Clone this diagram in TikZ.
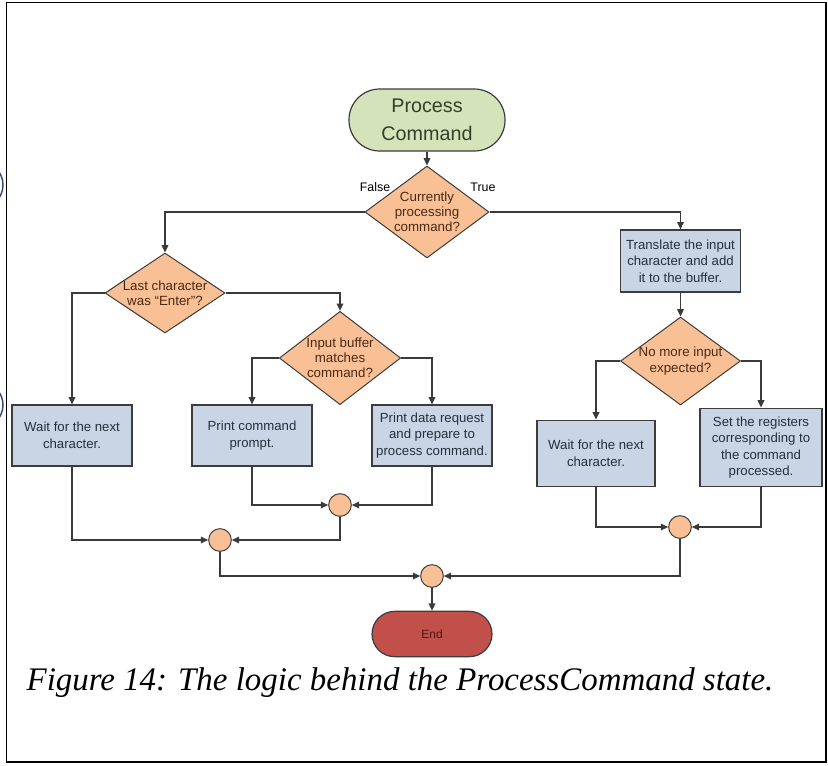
\documentclass[tikz,border=0pt]{standalone}
\usepackage{fontspec}
\setmainfont{Liberation Serif}
\newfontfamily\arialf{Liberation Sans}
\usetikzlibrary{arrows.meta,shapes.geometric}
\definecolor{boxfill}{HTML}{C9D5E5}
\definecolor{boxtext}{HTML}{26303C}
\definecolor{decfill}{HTML}{F9C096}
\definecolor{dectext}{HTML}{4A2A14}
\definecolor{startfill}{HTML}{D5E3BA}
\definecolor{starttext}{HTML}{33402A}
\definecolor{endfill}{HTML}{C2504A}
\definecolor{endtext}{HTML}{4E1510}
\definecolor{linegray}{HTML}{3C3C3C}
\definecolor{connline}{HTML}{3A3A3A}
\definecolor{edgeblue}{HTML}{3A4868}
\begin{document}
\begin{tikzpicture}[x=0.75pt,y=-0.75pt,
  box/.style={draw=linegray,line width=0.9pt,fill=boxfill,minimum width=90pt,minimum height=45.75pt,align=center,font=\arialf\fontsize{9.9}{12.4}\selectfont,text=boxtext,inner sep=1pt},
  dec/.style={draw=linegray,line width=0.75pt,fill=decfill,diamond,inner sep=0pt},
  dectxt/.style={align=center,font=\arialf\fontsize{10}{11.4}\selectfont,text=dectext},
  junc/.style={circle,draw=linegray,fill=decfill,minimum size=17pt,inner sep=0pt,line width=0.75pt},
  conn/.style={draw=connline,line width=0.9pt,-{Triangle[length=5.5pt,width=5pt]}},
  lbl/.style={font=\arialf\fontsize{9.3}{11}\selectfont,text=black},
]
\useasboundingbox (0,0) rectangle (828,765);
\begin{scope}
\clip (0,0) rectangle (828,765);
\draw[edgeblue,line width=1.1pt] (-20,185) circle (23);
\draw[edgeblue,line width=1.1pt] (-20,405) circle (23);
\end{scope}
\draw[black,line width=1pt] (6.5,2.5) rectangle (826,762);

% start / end
\node[draw=linegray,line width=0.9pt,fill=startfill,rounded corners=23pt,minimum width=117pt,minimum height=46.5pt,align=center,font=\arialf\fontsize{14.8}{21}\selectfont,text=starttext] (start) at (427,120) {Process\\Command};
\node[draw=linegray,line width=0.9pt,fill=endfill,rounded corners=17pt,minimum width=90pt,minimum height=34pt,font=\arialf\fontsize{9}{11}\selectfont,text=endtext] (end) at (432,634) {End};

% decisions
\node[dec,minimum width=93pt,minimum height=69pt,label={[dectxt]center:Currently\\processing\\command?}] (d1) at (427,212) {};
\node[dec,minimum width=90pt,minimum height=60pt,label={[dectxt]center:Last character\\was “Enter”?}] (d2) at (165,293) {};
\node[dec,minimum width=91pt,minimum height=70pt,label={[dectxt]center:Input buffer\\matches\\command?}] (d3) at (340,358) {};
\node[dec,minimum width=90pt,minimum height=66pt,label={[dectxt]center:No more input\\expected?}] (d4) at (680.5,361) {};

\node[lbl] (lf) at (375,187) {False};
\node[lbl] (lt) at (483,187) {True};

% boxes
\node[box,minimum height=46.5pt] (tr) at (680.5,261) {Translate the input\\character and add\\it to the buffer.};
\node[box] (w1) at (72,435.5) {Wait for the next\\character.};
\node[box] (pc) at (252,435.5) {Print command\\prompt.};
\node[box] (pd) at (432,435.5) {Print data request\\and prepare to\\process command.};
\node[box,minimum width=88.5pt,minimum height=50pt] (w2) at (596,453.5) {Wait for the next\\character.};
\node[box,minimum width=91.5pt,minimum height=59pt] (sr) at (761,447.5) {Set the registers\\corresponding to\\the command\\processed.};

% junctions
\node[junc] (c1) at (340,505) {};
\node[junc] (c2) at (220,540) {};
\node[junc] (c3) at (432,576) {};
\node[junc] (c4) at (680,527) {};

% connectors
\draw[conn] (start) -- (d1);
\draw[conn] (d1.west) -| (d2.north);
\draw[conn] (d1.east) -| (tr.north);
\draw[conn] (tr) -- (d4);
\draw[conn] (d4.west) -| (w2.north);
\draw[conn] (d4.east) -| (sr.north);
\draw[conn] (w2.south) |- (c4.west);
\draw[conn] (sr.south) |- (c4.east);
\draw[conn] (c4.south) |- (c3.east);
\draw[conn] (d2.west) -| (w1.north);
\draw[conn] (d2.east) -| (d3.north);
\draw[conn] (d3.west) -| (pc.north);
\draw[conn] (d3.east) -| (pd.north);
\draw[conn] (pc.south) |- (c1.west);
\draw[conn] (pd.south) |- (c1.east);
\draw[conn] (c1.south) |- (c2.east);
\draw[conn] (w1.south) |- (c2.west);
\draw[conn] (c2.south) |- (c3.west);
\draw[conn] (c3) -- (end);

% caption
\node[font=\fontsize{24.7}{28}\selectfont\itshape,text=black] (cap) at (400,683) {Figure 14: The logic behind the ProcessCommand state.};
\end{tikzpicture}
\end{document}
